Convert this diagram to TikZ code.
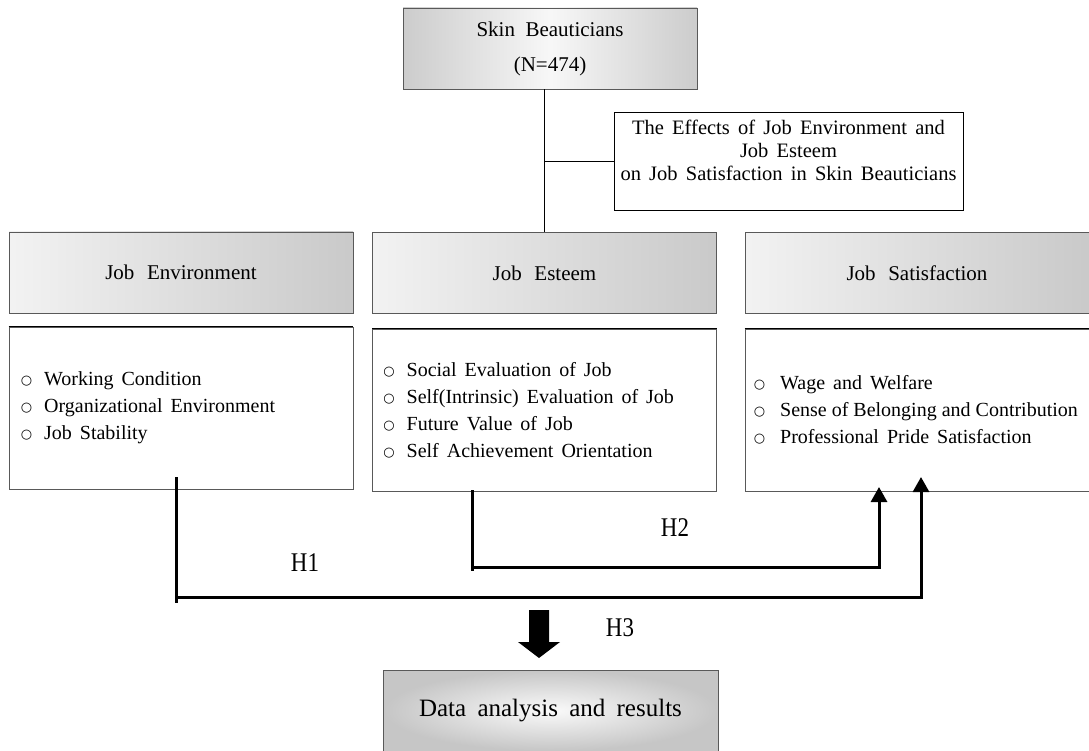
\documentclass[tikz,border=0pt]{standalone}
\usepackage{fontspec}
\setmainfont[WordSpace=1.6]{Liberation Serif}
\newfontfamily\symfont{DejaVu Sans}
\usetikzlibrary{arrows.meta}

\tikzset{
  headbox/.style={draw=gray!70!black, line width=0.8pt, left color=gray!10, right color=gray!42,
    minimum width=344pt, minimum height=81pt, inner sep=0pt, font=\fontsize{21}{24}\selectfont},
  listbox/.style={draw=gray!70!black, line width=0.8pt, minimum width=344pt, minimum height=162pt, inner sep=0pt},
  listtext/.style={anchor=west, align=left, inner sep=0pt, font=\fontsize{20}{27}\selectfont},
  hyp/.style={line width=3pt},
  hyparrow/.style={line width=3pt, -{Triangle[width=16pt,length=15pt]}},
  hlabel/.style={font=\fontsize{27}{27}\selectfont}
}
\newcommand{\itm}[1][12pt]{\raisebox{1pt}{\symfont\fontsize{13}{13}\selectfont ○}\hspace{#1}}
\newcommand{\hl}[1]{\scalebox{0.85}[1]{#1}}

\begin{document}
\begin{tikzpicture}[x=1pt,y=-1pt]
        \clip (0,0) rectangle (1089,751);

        \node[draw=gray!70!black, line width=0.8pt, left color=gray!40, right color=gray!40, middle color=gray!6,
              minimum width=294pt, minimum height=81pt, align=center, font=\fontsize{21}{35}\selectfont]
              (sample) at (550,48.5) {Skin\hspace{0.5em}Beauticians\\(N=474)};
        \node[draw, line width=0.8pt, minimum width=349pt, minimum height=98pt] (title) at (788.5,161.5) {};
        \node[align=center, font=\fontsize{20.5}{23}\selectfont] (titlet) at ([yshift=11pt]title.center)
              {The Effects of Job Environment and\\Job Esteem\\on Job Satisfaction in Skin Beauticians};

        \node[headbox] (env) at (181,272.5) {Job\hspace{0.6em}Environment};
        \node[headbox] (est) at (544.5,273) {Job\hspace{0.6em}Esteem};
        \node[headbox] (sat) at (917,273) {Job\hspace{0.6em}Satisfaction};

        \draw[line width=0.8pt] (sample.south -| est.north) -- (est.north);
        \draw[line width=0.8pt] (title.west) -- (title.west -| est.north);

        \node[listbox] (envl) at (181,408) {};
        \node[listbox] (estl) at (544.5,410) {};
        \node[listbox] (satl) at (917,410) {};
        \foreach \n in {envl,estl,satl} {
            \draw[line width=1.6pt] (\n.north west) -- (\n.north east);
        }

        \node[listtext] (envt) at ([xshift=12pt]envl.west) {\itm Working Condition\\\itm Organizational Environment\\\itm Job Stability};
        \node[listtext] (estt) at ([xshift=11pt]estl.west) {\itm Social Evaluation of Job\\\itm Self(Intrinsic) Evaluation of Job\\\itm Future Value of Job\\\itm Self Achievement Orientation};
        \node[listtext] (satt) at ([xshift=9pt]satl.west) {\itm[15pt]Wage and Welfare\\\itm[7pt] {\spaceskip=5pt Sense of Belonging and Contribution}\\\itm[7pt] Professional Pride Satisfaction};

        % hypotheses
        \coordinate (h1a) at (176,477);
        \coordinate (h1b) at (176,603);
        \coordinate (h1c) at (176,597);
        \coordinate (h1t) at (921,477);
        \draw[hyp] (h1a) -- (h1b);
        \draw[hyparrow] (h1c) -| (h1t);

        \coordinate (h2a) at (472,490);
        \coordinate (h2b) at (472,571);
        \coordinate (h2c) at (472,567);
        \coordinate (h2t) at (879,487);
        \draw[hyp] (h2a) -- (h2b);
        \draw[hyparrow] (h2c) -| (h2t);

        \node[hlabel] (h1) at (305,563) {\hl{H1}};
        \node[hlabel] (h2) at (675,528) {\hl{H2}};
        \node[hlabel] (h3) at (620,628) {\hl{H3}};

        \fill (529,610) -- (549,610) -- (549,642) -- (560,642) -- (539,658) -- (518,642) -- (529,642) -- cycle;

        \node[draw=gray!70!black, line width=0.8pt, inner color=gray!4, outer color=gray!45,
              minimum width=335pt, minimum height=81pt, font=\fontsize{25}{25}\selectfont]
              (result) at (550.5,710.5) {Data\hspace{0.45em}analysis\hspace{0.45em}and\hspace{0.45em}results};
\end{tikzpicture}
\end{document}
